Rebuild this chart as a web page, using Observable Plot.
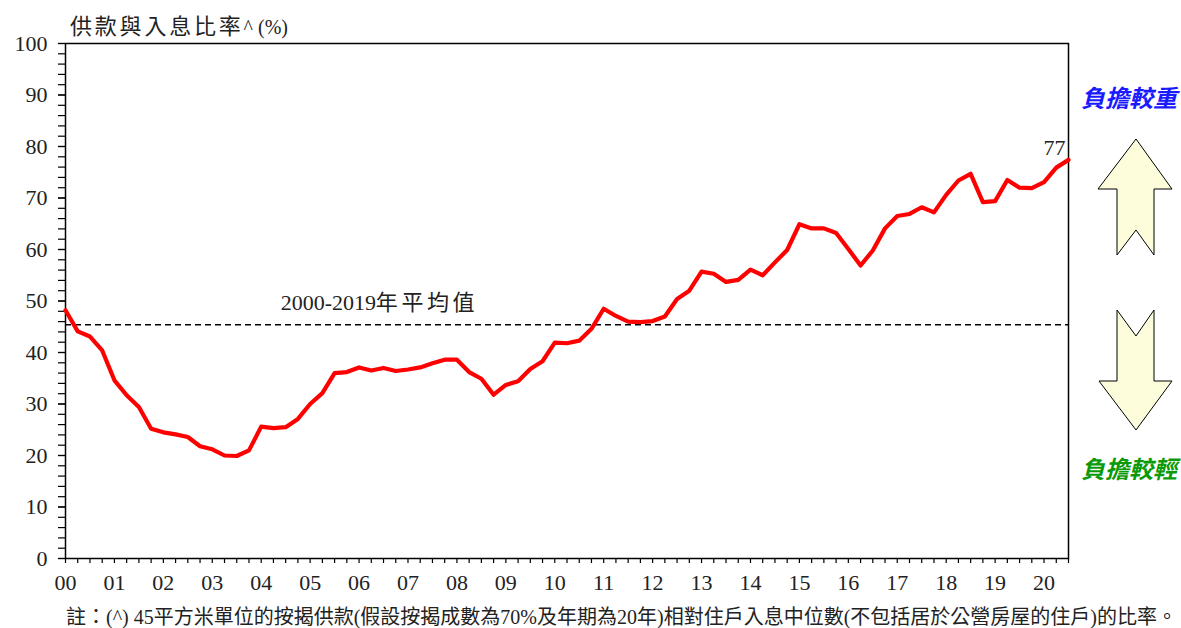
<!DOCTYPE html>
<html><head><meta charset="utf-8">
<script src="https://cdn.jsdelivr.net/npm/d3@7"></script>
<script src="https://cdn.jsdelivr.net/npm/@observablehq/plot@0.6"></script>
<style>
body{margin:0;background:#fff;}
#wrap{position:relative;width:1181px;height:628px;overflow:hidden;font-family:"Liberation Serif","Noto Sans CJK TC",serif;color:#000;}
#chart{position:absolute;left:0;top:0;}
.lbl{position:absolute;white-space:nowrap;}
.cjk{letter-spacing:2.8px;}
.small{font-size:20px;}
#title{left:70px;top:13px;font-size:22px;line-height:28px;color:#222;}
#note{left:66px;top:604px;font-size:20px;line-height:26px;color:#222;}
#heavy{left:1081px;top:83px;font-size:24px;line-height:28px;font-style:italic;font-weight:bold;color:#1a1aff;font-family:"Noto Sans CJK TC",sans-serif;}
#light{left:1081px;top:454px;font-size:24px;line-height:28px;font-style:italic;font-weight:bold;color:#0a9a0a;font-family:"Noto Sans CJK TC",sans-serif;}
#arrows{position:absolute;left:0;top:0;}
</style></head><body>
<div id="wrap">
<div id="chart"></div>
<div class="lbl" id="title"><span class="cjk">供款與入息比率</span><span class="small">^ (%)</span></div>
<div class="lbl" id="note">註：(^) 45平方米單位的按揭供款(假設按揭成數為70%及年期為20年)相對住戶入息中位數(不包括居於公營房屋的住戶)的比率。</div>
<div class="lbl" id="heavy">負擔較重</div>
<div class="lbl" id="light">負擔較輕</div>
<svg id="arrows" width="1181" height="628">
<polygon points="1136,139 1172,189 1154,189 1154,255 1136,230 1117,255 1117,189 1098,189" fill="#fdfddc" stroke="#000" stroke-width="1"/>
<polygon points="1117,310 1136,336 1154,310 1154,381 1172,381 1136,430 1099,381 1117,381" fill="#fdfddc" stroke="#000" stroke-width="1"/>
</svg>
</div>
<script>
// Quarterly ratio values, 2000 Q1 .. 2020 Q3
const startYear = 2000;
const ratioValues = [48.2,44.1,43.1,40.4,34.6,31.7,29.4,25.2,24.5,24.1,
23.6,21.8,21.2,20.0,19.9,21.0,25.6,25.3,25.5,27.1,
30.0,32.1,36.0,36.2,37.1,36.5,37.0,36.4,36.7,37.1,
37.9,38.6,38.6,36.2,34.9,31.8,33.7,34.4,36.8,38.3,
41.9,41.8,42.3,44.6,48.5,47.1,46.0,45.9,46.1,47.0,
50.4,52.0,55.7,55.3,53.7,54.1,56.1,55.0,57.5,59.9,
64.9,64.1,64.1,63.2,60.1,56.9,59.8,64.1,66.5,66.9,
68.2,67.2,70.6,73.4,74.7,69.2,69.4,73.5,72.0,71.9,
73.1,75.9,77.4];
const yearTicks = [2000,2001,2002,2003,2004,2005,2006,2007,2008,2009,2010,2011,2012,2013,2014,2015,2016,2017,2018,2019,2020];
const yearLabels = ["00","01","02","03","04","05","06","07","08","09","10","11","12","13","14","15","16","17","18","19","20"];
const yTicks = [0,10,20,30,40,50,60,70,80,90,100];
const averageValue = 45.4;
const averageLabelYears = "2000-2019";
const averageLabelText = "年平均值";
const lastLabel = "77";

const data = ratioValues.map((v, i) => ({t: startYear + i / 4, v}));
const quarterTicks = data.map(d => d.t);
const minorY = d3.range(0, 101, 2);
const last = data[data.length - 1];

const font = '"Liberation Serif","Noto Sans CJK TC",serif';
const chart = Plot.plot({
  width: 1181, height: 628,
  marginLeft: 65, marginRight: 113, marginTop: 43, marginBottom: 70,
  x: {domain: [2000, 2020.5], axis: null},
  y: {domain: [0, 100], axis: null},
  style: {fontFamily: font, fontSize: "22px", color: "#000", background: "transparent", overflow: "visible"},
  marks: [
    Plot.frame({stroke: "#000", strokeWidth: 1.5}),
    Plot.axisY({ticks: minorY, tickSize: 7, tickFormat: () => "", strokeWidth: 1.2, label: null}),
    Plot.axisY({ticks: yTicks, tickSize: 7, tickPadding: 11, fontSize: 22, strokeWidth: 1.2, fill: "#222", label: null}),
    Plot.axisX({ticks: quarterTicks, tickSize: 5, tickFormat: () => "", strokeWidth: 1.2, label: null}),
    Plot.axisX({ticks: yearTicks, tickSize: 0, tickPadding: 16, fontSize: 22, fill: "#222", label: null, tickFormat: d => yearLabels[yearTicks.indexOf(d)]}),
    Plot.ruleY([averageValue], {stroke: "#000", strokeWidth: 1.5, strokeDasharray: "6,4"}),
    Plot.text([averageLabelYears], {x: 2004.4, y: averageValue, text: d => d, dy: -22, textAnchor: "start", fontSize: 22, fill: "#222"}),
    Plot.text([averageLabelText], {x: 2004.4, y: averageValue, text: d => d, dy: -22, dx: 95, textAnchor: "start", fontSize: 22, fill: "#222"}),
    Plot.line(data, {x: "t", y: "v", stroke: "#ff0000", strokeWidth: 4.2, strokeLinejoin: "round"}),
    Plot.text([last], {x: "t", y: "v", text: () => lastLabel, dy: -12, dx: -3, textAnchor: "end", fontSize: 22, fill: "#222"})
  ]
});
d3.select(chart).selectAll("text").filter(function() { return this.textContent === averageLabelText; })
  .style("letter-spacing", "3.6px");
document.getElementById("chart").appendChild(chart);
</script>
</body></html>
